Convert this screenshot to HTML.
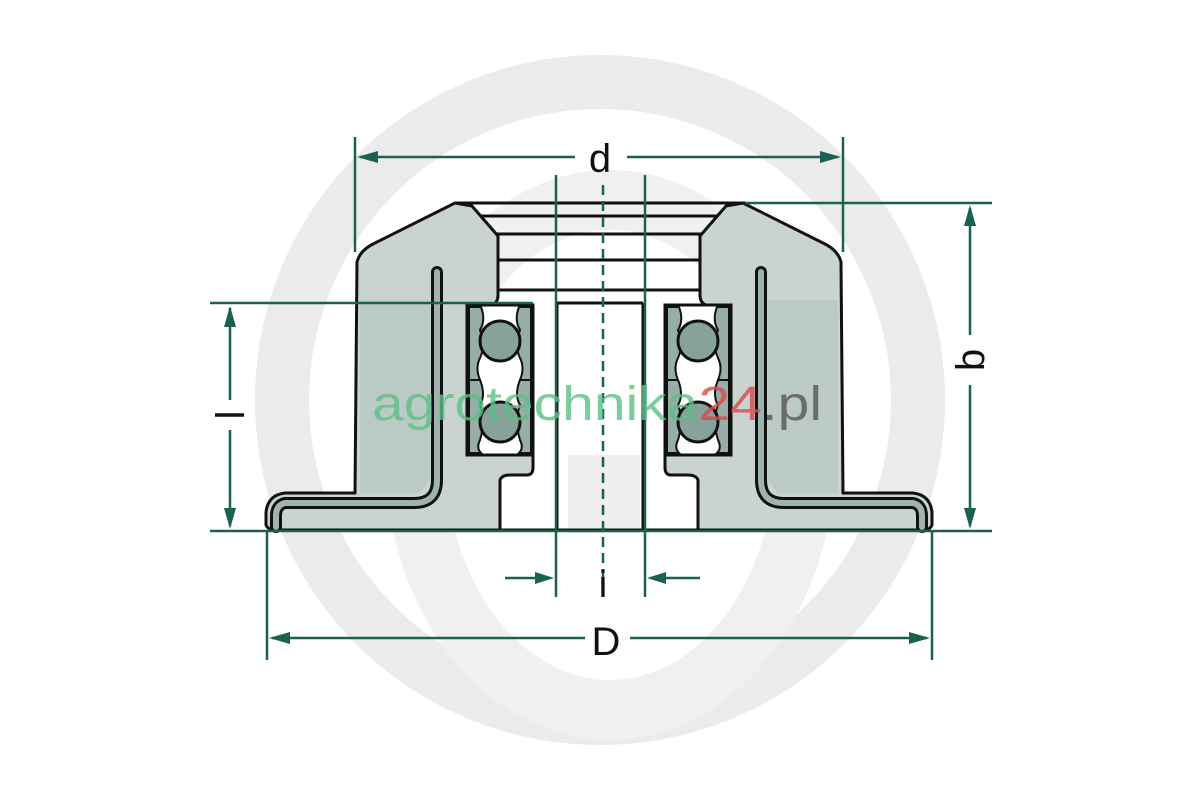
<!DOCTYPE html>
<html><head><meta charset="utf-8"><style>
html,body{margin:0;padding:0;background:#fff}
svg{display:block}
</style></head><body>
<svg width="1200" height="800" viewBox="0 0 1200 800" xmlns="http://www.w3.org/2000/svg">
<!-- watermark -->
<circle cx="600" cy="400" r="318" fill="none" stroke="#ebebeb" stroke-width="54"/>
<ellipse cx="610" cy="455" rx="195" ry="255" fill="none" stroke="#f0f0f0" stroke-width="60"/>
<rect x="568" y="455" width="72" height="78" fill="#efefef"/>

<!-- bore horizontal lines -->
<g stroke="#111" stroke-width="3">
<line x1="455" y1="203" x2="745" y2="203"/>
<line x1="470" y1="216" x2="728" y2="216"/>
<line x1="490" y1="234" x2="708" y2="234"/>
<line x1="498" y1="260" x2="700" y2="260"/>
<line x1="498" y1="290" x2="700" y2="290"/>
<line x1="557" y1="303" x2="643" y2="303"/>
<line x1="557" y1="303" x2="557" y2="530"/>
<line x1="643" y1="303" x2="643" y2="530"/>
<line x1="500" y1="530" x2="700" y2="530"/>
</g>

<g id="half">
<path d="M270 530 L500 530 L500 480 Q502 475 510 475 L528 475 Q533 474 533 468 L533 455 L467 455 L467 305 L492 305 Q498 303 498 295 L498 236 L472 206 L455 203 L375 243 Q360 250 357 262 L355 493 L285 493 Q268 495 266 512 L266 525 Q268 530 275 530 Z" fill="#c9d4d0" stroke="#111" stroke-width="3" stroke-linejoin="round"/>
<path d="M360 300 L360 493 L420 493 L430 480 L430 300 Z" fill="#b4c3bf" opacity="0.6"/>
<path d="M437 272 L437 480 Q437 503 414 503 L285 503 Q276 505 276 516 L276 527" fill="none" stroke="#111" stroke-width="12" stroke-linecap="round"/>
<path d="M437 272 L437 480 Q437 503 414 503 L285 503 Q276 505 276 516 L276 527" fill="none" stroke="#9fb4ae" stroke-width="6" stroke-linecap="round"/>
<!-- bearing -->
<rect x="467" y="305" width="66" height="150" fill="#fff" stroke="#111" stroke-width="3"/>
<path d="M469 307 L481 307 Q486 320 480 330 Q486 345 480 358 Q475 368 480 380 L469 380 Z" fill="#97aea8" stroke="#111" stroke-width="2"/>
<path d="M531 307 L519 307 Q514 320 520 330 Q514 345 520 358 Q525 368 520 380 L531 380 Z" fill="#97aea8" stroke="#111" stroke-width="2"/>
<path d="M469 380 L480 380 Q486 395 480 405 Q486 420 480 440 Q476 448 481 453 L469 453 Z" fill="#97aea8" stroke="#111" stroke-width="2"/>
<path d="M531 380 L520 380 Q514 395 520 405 Q514 420 520 440 Q524 448 519 453 L531 453 Z" fill="#97aea8" stroke="#111" stroke-width="2"/>
<circle cx="500" cy="341" r="20" fill="#87a19b" stroke="#111" stroke-width="3"/>
<circle cx="500" cy="422" r="20" fill="#87a19b" stroke="#111" stroke-width="3"/>
</g>
<use href="#half" transform="translate(1198,0) scale(-1,1)"/>

<!-- dimensions -->
<g stroke="#1a6152" stroke-width="2.5" fill="none">
<line x1="355" y1="137" x2="355" y2="252"/>
<line x1="843" y1="137" x2="843" y2="252"/>
<line x1="360" y1="157" x2="575" y2="157"/>
<line x1="627" y1="157" x2="838" y2="157"/>
<line x1="745" y1="203" x2="992" y2="203"/>
<line x1="210" y1="531" x2="992" y2="531"/>
<line x1="970" y1="208" x2="970" y2="335"/>
<line x1="970" y1="385" x2="970" y2="526"/>
<line x1="210" y1="303" x2="533" y2="303"/>
<line x1="230" y1="308" x2="230" y2="400"/>
<line x1="230" y1="430" x2="230" y2="526"/>
<line x1="556" y1="175" x2="556" y2="597"/>
<line x1="645" y1="175" x2="645" y2="597"/>
<line x1="505" y1="578" x2="550" y2="578"/>
<line x1="650" y1="578" x2="700" y2="578"/>
<line x1="267" y1="532" x2="267" y2="660"/>
<line x1="932" y1="532" x2="932" y2="660"/>
<line x1="272" y1="638" x2="585" y2="638"/>
<line x1="630" y1="638" x2="927" y2="638"/>
<line x1="603" y1="185" x2="603" y2="590" stroke-dasharray="10,6"/>
</g>
<g fill="#1a6152">
<polygon points="357,157 378,151 378,163"/>
<polygon points="841,157 820,151 820,163"/>
<polygon points="970,205 964,226 976,226"/>
<polygon points="970,529 964,508 976,508"/>
<polygon points="230,306 224,327 236,327"/>
<polygon points="230,529 224,508 236,508"/>
<polygon points="554,578 535,572 535,584"/>
<polygon points="647,578 666,572 666,584"/>
<polygon points="269,638 290,632 290,644"/>
<polygon points="930,638 909,632 909,644"/>
</g>
<g font-family="Liberation Sans, sans-serif" fill="#111">
<text x="600" y="172" font-size="40" text-anchor="middle">d</text>
<text x="603" y="597" font-size="38" text-anchor="middle">i</text>
<text x="606" y="655" font-size="40" text-anchor="middle">D</text>
<text transform="translate(984,360) rotate(-90)" font-size="40" text-anchor="middle">b</text>
<text transform="translate(244,415) rotate(-90)" font-size="40" text-anchor="middle">l</text>
</g>
<text x="372" y="420" font-family="Liberation Sans, sans-serif" font-size="48" textLength="450" lengthAdjust="spacingAndGlyphs" opacity="0.8"><tspan fill="#5cc084">agrotechnika</tspan><tspan fill="#d94a4a">24</tspan><tspan fill="#555">.pl</tspan></text>
</svg>
</body></html>
